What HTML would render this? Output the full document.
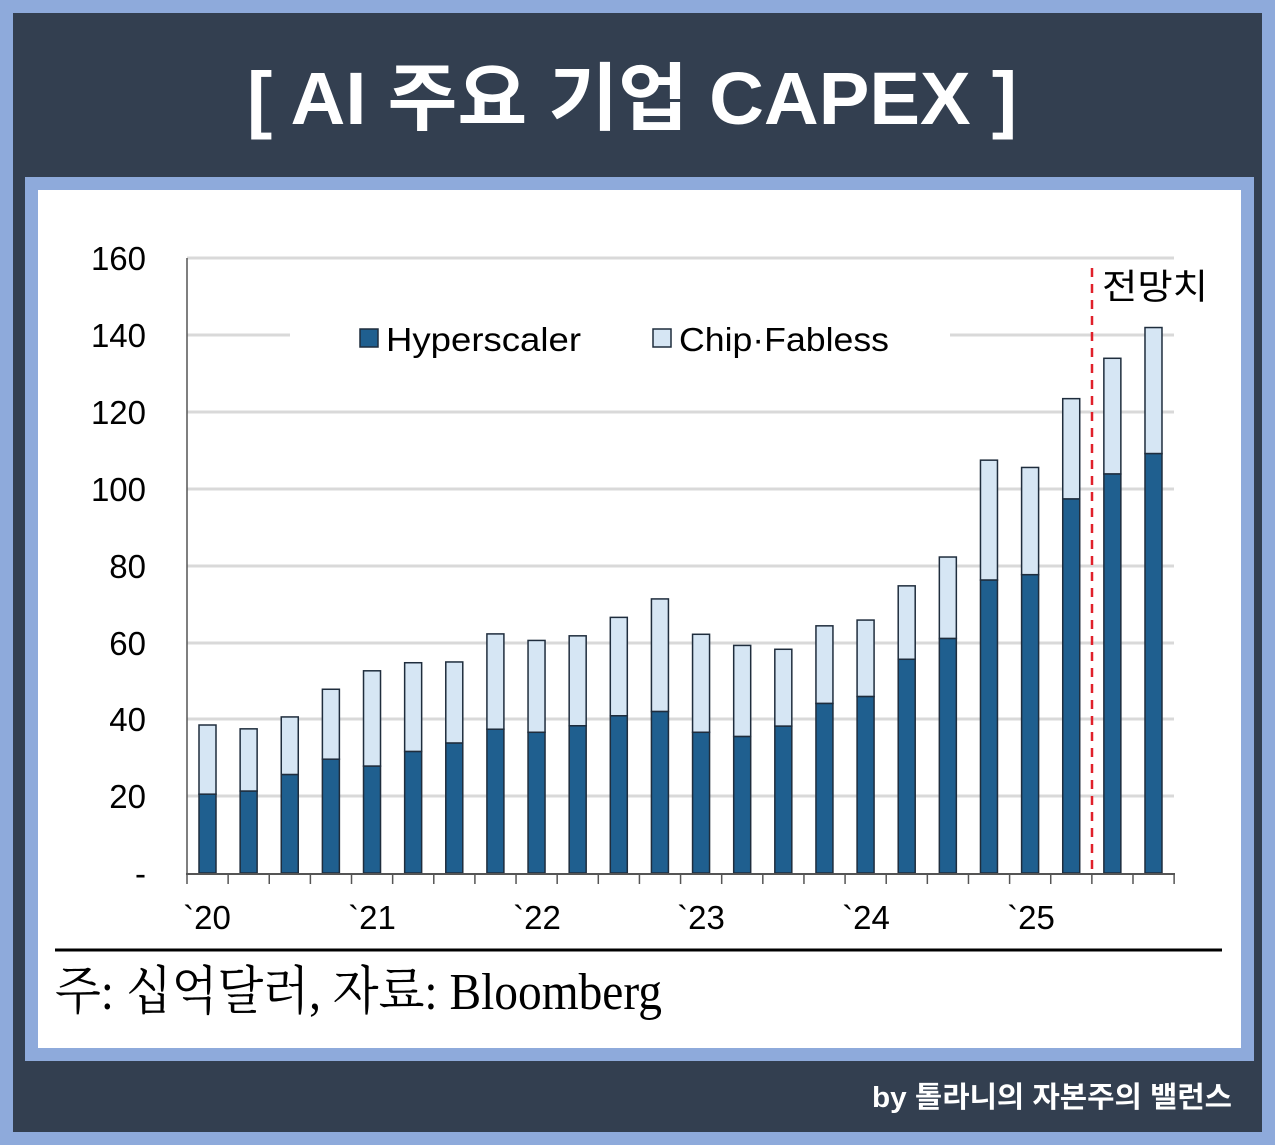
<!DOCTYPE html>
<html><head><meta charset="utf-8"><style>html,body{margin:0;padding:0;background:#8eaadb}svg{display:block}</style></head><body>
<svg width="1275" height="1145" viewBox="0 0 1275 1145" xmlns="http://www.w3.org/2000/svg">
<rect x="0" y="0" width="1275" height="1145" fill="#8eaadb"/>
<rect x="13" y="13" width="1249" height="1119" fill="#333f50"/>
<rect x="25" y="177" width="1229" height="884" fill="#8eaadb"/>
<rect x="38" y="190" width="1203" height="858" fill="#ffffff"/>
<text x="632" y="124" text-anchor="middle" fill="#fff" font-family="'Liberation Sans','Noto Sans CJK KR',sans-serif" font-weight="bold" font-size="74" textLength="770" lengthAdjust="spacingAndGlyphs">[ AI  주요 기업 CAPEX ]</text>
<g id="grid" stroke="#d9d9d9" stroke-width="3">
<line x1="187" y1="258" x2="1174" y2="258"/>
<line x1="187" y1="335" x2="1174" y2="335"/>
<line x1="187" y1="412" x2="1174" y2="412"/>
<line x1="187" y1="489" x2="1174" y2="489"/>
<line x1="187" y1="566" x2="1174" y2="566"/>
<line x1="187" y1="643" x2="1174" y2="643"/>
<line x1="187" y1="719" x2="1174" y2="719"/>
<line x1="187" y1="796" x2="1174" y2="796"/>
</g>
<rect x="290" y="318" width="660" height="40" fill="#fff"/>
<g font-family="'Liberation Sans',sans-serif" font-size="33" fill="#000" text-anchor="end">
<text x="146" y="270">160</text><text x="146" y="347">140</text><text x="146" y="424">120</text><text x="146" y="501">100</text>
<text x="146" y="578">80</text><text x="146" y="655">60</text><text x="146" y="731">40</text><text x="146" y="808">20</text><text x="146" y="885">-</text>
</g>
<g id="bars" stroke="#1f2d3d" stroke-width="1.5"></g>
<line x1="1092" y1="268" x2="1092" y2="873" stroke="#e0202a" stroke-width="2.5" stroke-dasharray="9,7"/>
<text x="1102" y="299" font-family="'Liberation Sans','Noto Sans CJK KR',sans-serif" font-size="35" fill="#000" textLength="106" lengthAdjust="spacingAndGlyphs">전망치</text>
<line x1="187" y1="258" x2="187" y2="874" stroke="#555" stroke-width="1.5"/>
<line x1="186" y1="874" x2="1175" y2="874" stroke="#555" stroke-width="2"/>
<g id="ticks" stroke="#555" stroke-width="1.5"></g>
<g font-family="'Liberation Sans',sans-serif" font-size="33" fill="#000" text-anchor="middle">
<text x="207" y="929">`20</text><text x="372" y="929">`21</text><text x="537" y="929">`22</text><text x="701" y="929">`23</text><text x="866" y="929">`24</text><text x="1031" y="929">`25</text>
</g>
<rect x="360" y="329" width="18" height="18" fill="#1f5f8f" stroke="#1f2d3d" stroke-width="1.5"/>
<text x="386" y="351" font-family="'Liberation Sans',sans-serif" font-size="33" fill="#000" textLength="195" lengthAdjust="spacingAndGlyphs">Hyperscaler</text>
<rect x="653" y="329" width="18" height="18" fill="#d6e6f4" stroke="#1f2d3d" stroke-width="1.5"/>
<text x="679" y="351" font-family="'Liberation Sans',sans-serif" font-size="33" fill="#000" textLength="210" lengthAdjust="spacingAndGlyphs">Chip·Fabless</text>
<line x1="55" y1="950" x2="1222" y2="950" stroke="#000" stroke-width="3"/>
<text x="55" y="1009" font-family="'Liberation Serif','Noto Serif CJK SC','Noto Sans CJK KR',serif" font-size="52" fill="#000" textLength="607" lengthAdjust="spacingAndGlyphs">주:  십억달러,  자료: Bloomberg</text>
<text x="1232" y="1107" text-anchor="end" font-family="'Liberation Sans','Noto Sans CJK KR',sans-serif" font-weight="bold" font-size="29" fill="#fff" textLength="360" lengthAdjust="spacingAndGlyphs">by 톨라니의 자본주의 밸런스</text>
<script>
var d=[[38.5,20.5],[37.5,21.3],[40.6,25.6],[47.8,29.6],[52.6,27.8],[54.7,31.6],[54.9,33.8],[62.2,37.4],[60.5,36.6],[61.7,38.3],[66.5,40.9],[71.3,42.0],[62.1,36.6],[59.2,35.5],[58.2,38.2],[64.3,44.1],[65.8,45.9],[74.7,55.6],[82.2,61.0],[107.4,76.2],[105.5,77.6],[123.4,97.3],[133.9,103.8],[141.9,109.1]];
var ns="http://www.w3.org/2000/svg",g=document.getElementById("bars"),t=document.getElementById("ticks");
function r(x,y,w,h,f){var e=document.createElementNS(ns,"rect");e.setAttribute("x",x);e.setAttribute("y",y);e.setAttribute("width",w);e.setAttribute("height",h);e.setAttribute("fill",f);g.appendChild(e);}
var k=3.844,sp=41.13;
d.forEach(function(v,i){var cx=207.5+i*sp,x=cx-8.5;var yt=873-v[0]*k,yh=873-v[1]*k;r(x,yt,17,yh-yt,"#d6e6f4");r(x,yh,17,873-yh,"#1f5f8f");});
for(var i=0;i<=24;i++){var x=187+i*sp;var l=document.createElementNS(ns,"line");l.setAttribute("x1",x);l.setAttribute("x2",x);l.setAttribute("y1",874);l.setAttribute("y2",884);t.appendChild(l);}
</script>
</svg>
</body></html>
